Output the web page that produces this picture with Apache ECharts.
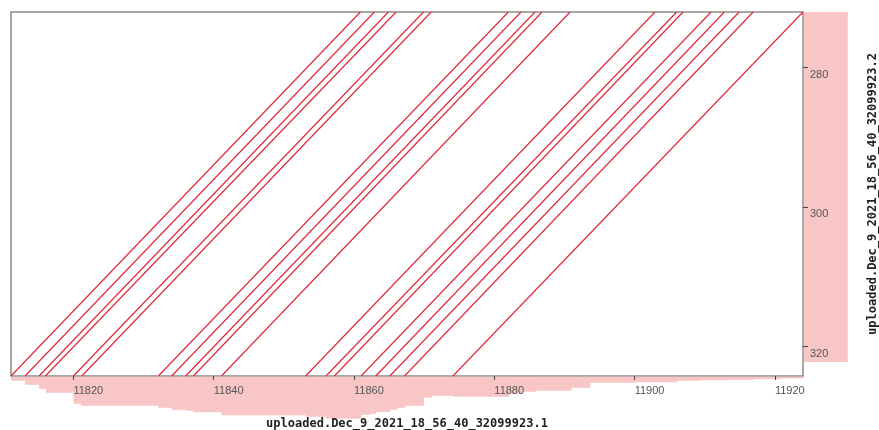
<!DOCTYPE html>
<html><head><meta charset="utf-8">
<script src="https://cdn.jsdelivr.net/npm/echarts@6/dist/echarts.min.js"></script>
<style>html,body{margin:0;padding:0;background:#fff}#c{width:879px;height:430px}</style>
</head><body><div id="c"></div>
<script>
// ---- data ----
const xName = 'uploaded.Dec_9_2021_18_56_40_32099923.1';
const yName = 'uploaded.Dec_9_2021_18_56_40_32099923.2';
const xTicks = [11820, 11840, 11860, 11880, 11900, 11920];
const yTicks = [280, 300, 320];
const xRange = [11811.1, 11924.0];
const yRange = [272.1, 324.2];
// alignments: x at the bottom (y = alignStartY) and x at the top (y = alignEndY)
const alignStartY = 324.2;
const alignEndY = 272.1;
const alignStartX = [11811.1, 11813.1, 11815.1, 11816.0, 11820.0, 11821.2, 11832.1, 11834.0, 11836.0, 11837.1,
                     11841.1, 11853.1, 11856.0, 11857.2, 11861.0, 11863.1, 11865.1, 11867.2, 11874.1];
const alignEndX   = [11860.9, 11862.9, 11864.9, 11866.0, 11869.9, 11871.0, 11882.0, 11883.8, 11885.8, 11886.8,
                     11890.8, 11902.9, 11906.0, 11906.9, 11910.9, 11912.8, 11914.9, 11916.9, 11924.0];
// coverage along x (step start positions and heights), last entry closes the final step
const xCovStart = [11811.1, 11813.1, 11815.1, 11816.1, 11820.0, 11821.1, 11832.1, 11834.0, 11836.0, 11837.1,
                   11841.1, 11853.1, 11856.0, 11861.0, 11862.3, 11863.1, 11865.1, 11866.1, 11867.2, 11869.9,
                   11871.0, 11874.1, 11882.0, 11883.9, 11885.9, 11890.9, 11893.6, 11900.0, 11906.0, 11909.0,
                   11913.2, 11916.9, 11920.7, 11924.0];
const xCovValue = [4, 8, 12, 16, 27, 29, 31, 33, 34, 35.5,
                   38.5, 40, 42, 38, 37, 35, 33, 31, 29, 21,
                   19, 20, 17, 15, 14, 11, 6, 5.5, 4, 3.5,
                   3, 2.3, 1.6];
// coverage along y
const yCovStart = [272.1];
const yCovEnd = [322.2];
const yCovValue = [44];

// ---- build ----
const pink = '#f9c6c6';
const lineColor = 'rgb(224,34,50)';
const xCovData = xCovValue.map((v, i) => [xCovStart[i], xCovStart[i + 1], v]);
const yCovData = yCovValue.map((v, i) => [yCovStart[i], yCovEnd[i], v]);
const alignData = alignStartX.map((x0, i) => [x0, alignStartY, alignEndX[i], alignEndY]);

const chart = echarts.init(document.getElementById('c'), null, {renderer: 'canvas'});
chart.setOption({
  animation: false,
  backgroundColor: '#fff',
  grid: [
    {left: 11, top: 12, width: 792, height: 364, show: true, borderColor: '#8a8a8a', borderWidth: 1.5,
     backgroundColor: 'transparent', containLabel: false, outerBoundsMode: 'none'},
    {left: 11, top: 376.8, width: 792, height: 50, containLabel: false, outerBoundsMode: 'none'},
    {left: 803.8, top: 12, width: 50, height: 364, containLabel: false, outerBoundsMode: 'none'}
  ],
  xAxis: [
    {gridIndex: 0, type: 'value', min: xRange[0], max: xRange[1], position: 'bottom', z: 10,
     axisLine: {show: false}, splitLine: {show: false},
     axisTick: {show: true, customValues: xTicks, length: 4, lineStyle: {color: '#444', width: 1}},
     axisLabel: {customValues: xTicks, formatter: v => String(v), align: 'left', margin: 9, color: '#555', fontSize: 11, fontFamily: 'Liberation Sans'},
     name: xName, nameLocation: 'middle', nameGap: 42,
     nameTextStyle: {fontFamily: 'DejaVu Sans Mono', fontWeight: 'bold', fontSize: 12, color: '#222'}},
    {gridIndex: 1, type: 'value', min: xRange[0], max: xRange[1], show: false},
    {gridIndex: 2, type: 'value', min: 0, max: 50, show: false}
  ],
  yAxis: [
    {gridIndex: 0, type: 'value', min: yRange[0], max: yRange[1], inverse: true, position: 'right', z: 10,
     axisLine: {show: false}, splitLine: {show: false},
     axisTick: {show: true, customValues: yTicks, length: 5, lineStyle: {color: '#444', width: 1}},
     axisLabel: {customValues: yTicks, formatter: v => String(v), align: 'left', verticalAlign: 'top', margin: 7, color: '#555', fontSize: 11, fontFamily: 'Liberation Sans', padding: [2, 0, 0, 0]},
     name: yName, nameLocation: 'middle', nameGap: 64, nameRotate: 90,
     nameTextStyle: {fontFamily: 'DejaVu Sans Mono', fontWeight: 'bold', fontSize: 12, color: '#222'}},
    {gridIndex: 1, type: 'value', min: 0, max: 50, inverse: true, show: false},
    {gridIndex: 2, type: 'value', min: yRange[0], max: yRange[1], inverse: true, show: false}
  ],
  series: [
    {type: 'custom', xAxisIndex: 1, yAxisIndex: 1, z: 1, data: xCovData,
     encode: {x: [0, 1], y: 2},
     renderItem: function (params, api) {
       const p0 = api.coord([api.value(0), 0]);
       const p1 = api.coord([api.value(1), api.value(2)]);
       return {type: 'rect', shape: {x: p0[0], y: p0[1], width: p1[0] - p0[0] + 0.6, height: p1[1] - p0[1]},
               style: {fill: pink}};
     }},
    {type: 'custom', xAxisIndex: 2, yAxisIndex: 2, z: 1, data: yCovData,
     encode: {y: [0, 1], x: 2},
     renderItem: function (params, api) {
       const p0 = api.coord([0, api.value(0)]);
       const p1 = api.coord([api.value(2), api.value(1)]);
       return {type: 'rect', shape: {x: p0[0], y: p0[1], width: p1[0] - p0[0], height: p1[1] - p0[1]},
               style: {fill: pink}};
     }},
    {type: 'custom', xAxisIndex: 0, yAxisIndex: 0, z: 5, data: alignData,
     encode: {x: [0, 2], y: [1, 3]},
     renderItem: function (params, api) {
       const a = api.coord([api.value(0), api.value(1)]);
       const b = api.coord([api.value(2), api.value(3)]);
       return {type: 'line', shape: {x1: a[0], y1: a[1], x2: b[0], y2: b[1]},
               style: {stroke: lineColor, lineWidth: 1.1, fill: null}};
     }}
  ]
});
</script></body></html>
